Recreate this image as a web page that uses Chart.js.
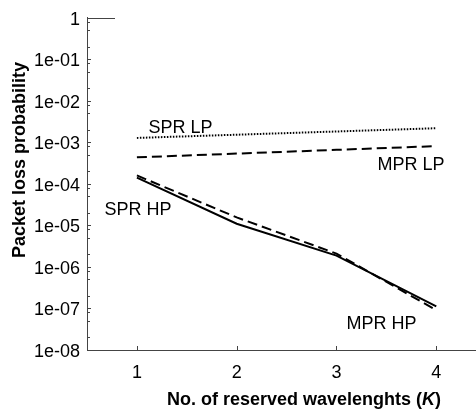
<!DOCTYPE html>
<html>
<head>
<meta charset="utf-8">
<script src="https://cdn.jsdelivr.net/npm/chart.js@4.4.0/dist/chart.umd.min.js"></script>
<style>
  html, body { margin: 0; padding: 0; background: #fff; }
  #wrap { width: 476px; height: 410px; }
</style>
</head>
<body>
<div id="wrap"><canvas id="c" width="476" height="410"></canvas></div>
<script>
// ---- data ----
const K = [1, 2, 3, 4];
const sprLP = [1.28e-3, 1.53e-3, 1.83e-3, 2.19e-3];
const mprLP = [4.36e-4, 5.36e-4, 6.6e-4, 8.13e-4];
const sprHP = [1.42e-4, 1.10e-5, 1.88e-6, 1.13e-7];
const mprHP = [1.60e-4, 1.56e-5, 2.10e-6, 9.1e-8];
const yTickValues = [1, 1e-1, 1e-2, 1e-3, 1e-4, 1e-5, 1e-6, 1e-7, 1e-8];
const xTickValues = [1, 2, 3, 4];
const annotations = [
  { text: 'SPR LP', x: 1.117, y: 1.71e-3 },
  { text: 'MPR LP', x: 3.412, y: 2.16e-4 },
  { text: 'SPR HP', x: 0.676, y: 1.81e-5 },
  { text: 'MPR HP', x: 3.10,  y: 3.18e-8 }
];
const xTitle = ['No. of reserved wavelenghts (', 'K', ')'];
const yTitle = 'Packet loss probability';

const FONT = "'Liberation Sans', Arial, Helvetica, sans-serif";

function fmtY(v) {
  if (Math.abs(v - 1) < 1e-12) return '1';
  const e = Math.round(Math.log10(v));
  const s = String(Math.abs(e)).padStart(2, '0');
  return '1e' + (e < 0 ? '-' : '+') + s;
}

const toPts = arr => K.map((k, i) => ({ x: k, y: arr[i] }));

const decor = {
  id: 'decor',
  afterDraw(chart) {
    const ctx = chart.ctx;
    const xs = chart.scales.x, ys = chart.scales.y;
    const a = chart.chartArea;
    ctx.save();
    ctx.strokeStyle = '#444';
    ctx.lineWidth = 1;
    // top short segment at y=1
    ctx.beginPath();
    const yTop = Math.round(ys.getPixelForValue(1)) + 0.5;
    ctx.moveTo(a.left, yTop); ctx.lineTo(a.left + 28, yTop);
    ctx.stroke();
    // y ticks (inward)
    ctx.beginPath();
    for (const v of yTickValues) {
      const y = Math.round(ys.getPixelForValue(v)) + 0.5;
      ctx.moveTo(a.left, y); ctx.lineTo(a.left + 4, y);
      if (v > 1e-8) {
        for (const m of [0.8, 0.5, 0.2]) {
          const ym = Math.round(ys.getPixelForValue(v * m)) + 0.5;
          ctx.moveTo(a.left, ym); ctx.lineTo(a.left + 3, ym);
        }
      }
    }
    // x ticks (inward)
    for (const v of xTickValues) {
      const x = Math.round(xs.getPixelForValue(v)) + 0.5;
      ctx.moveTo(x, a.bottom); ctx.lineTo(x, a.bottom - 4);
    }
    ctx.stroke();

    // annotations
    ctx.fillStyle = '#000';
    ctx.font = '18px ' + FONT;
    ctx.textAlign = 'left';
    ctx.textBaseline = 'alphabetic';
    for (const an of annotations) {
      ctx.fillText(an.text, xs.getPixelForValue(an.x), ys.getPixelForValue(an.y));
    }

    // x title
    let x = 167;
    const yb = 405;
    const fonts = ['bold 18px ' + FONT, 'italic bold 18px ' + FONT, 'bold 18px ' + FONT];
    xTitle.forEach((t, i) => {
      ctx.font = fonts[i];
      ctx.fillText(t, x, yb);
      x += ctx.measureText(t).width;
    });

    // y title
    ctx.font = 'bold 18px ' + FONT;
    ctx.translate(25, 258);
    ctx.rotate(-Math.PI / 2);
    ctx.fillText(yTitle, 0, 0);
    ctx.restore();
  }
};

new Chart(document.getElementById('c'), {
  type: 'line',
  data: {
    datasets: [
      { label: 'SPR LP', data: toPts(sprLP), borderColor: '#000', borderWidth: 2, borderDash: [1.5, 1.5], pointRadius: 0, tension: 0 },
      { label: 'MPR LP', data: toPts(mprLP), borderColor: '#000', borderWidth: 2, borderDash: [10, 5], pointRadius: 0, tension: 0 },
      { label: 'SPR HP', data: toPts(sprHP), borderColor: '#000', borderWidth: 2, pointRadius: 0, tension: 0 },
      { label: 'MPR HP', data: toPts(mprHP), borderColor: '#000', borderWidth: 2, borderDash: [10, 5], pointRadius: 0, tension: 0 }
    ]
  },
  options: {
    responsive: false,
    animation: false,
    events: [],
    layout: { padding: { top: 16, right: 0, bottom: 0, left: 0 } },
    plugins: { legend: { display: false }, tooltip: { enabled: false }, title: { display: false } },
    scales: {
      x: {
        type: 'linear',
        min: 0.5, max: 4.398,
        grid: { display: false, drawTicks: false },
        border: { display: true, color: '#444', width: 1 },
        afterBuildTicks: s => { s.ticks = xTickValues.map(v => ({ value: v })); },
        afterFit: s => { s.height = 60; },
        ticks: {
          color: '#000', padding: 12,
          font: { family: FONT, size: 18 },
          callback: v => String(v)
        }
      },
      y: {
        type: 'logarithmic',
        min: 1e-8, max: 1,
        grid: { display: false, drawTicks: false },
        border: { display: true, color: '#444', width: 1 },
        afterBuildTicks: s => { s.ticks = yTickValues.map(v => ({ value: v })); },
        afterFit: s => { s.width = 87; },
        ticks: {
          color: '#000', padding: 7, labelOffset: 2,
          font: { family: FONT, size: 18 },
          callback: v => fmtY(v)
        }
      }
    }
  },
  plugins: [decor]
});
</script>
</body>
</html>
